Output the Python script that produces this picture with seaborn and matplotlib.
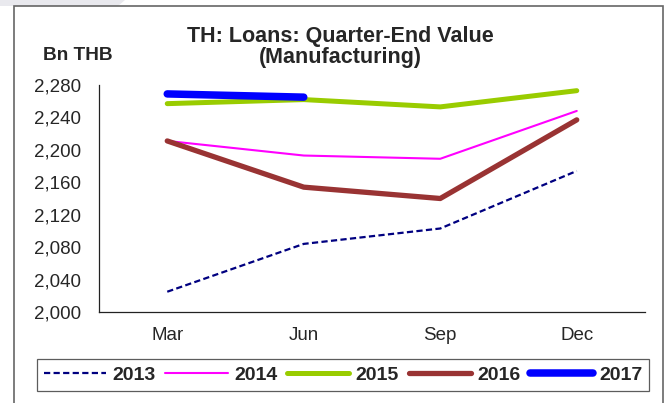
import matplotlib
matplotlib.use("Agg")
import matplotlib.pyplot as plt
from matplotlib.patches import Rectangle, Polygon
from matplotlib.ticker import FixedLocator, FuncFormatter
import seaborn as sns
import pandas as pd

quarters = ["Mar", "Jun", "Sep", "Dec"]
loans_2013 = [2025, 2084, 2103, 2174]
loans_2014 = [2211, 2193, 2189, 2248]
loans_2015 = [2257, 2262, 2253, 2273]
loans_2016 = [2211, 2154, 2140, 2237]
loans_2017 = [2269, 2265]

series = [
    ("2013", loans_2013, "#000080", 1.6, (0, (2.8, 1.5))),
    ("2014", loans_2014, "#FF00FF", 1.5, "-"),
    ("2015", loans_2015, "#99CC00", 3.6, "-"),
    ("2016", loans_2016, "#993333", 3.8, "-"),
    ("2017", loans_2017, "#0000FF", 5.4, "-"),
]

sns.set_style("white")
plt.rcParams["font.family"] = ["Liberation Sans", "DejaVu Sans"]

W, H = 667, 403
fig = plt.figure(figsize=(W / 100, H / 100), dpi=100)
ax = fig.add_axes([99 / W, 1 - 312 / H, (645 - 99) / W, (312 - 85) / H])

for label, vals, color, lw, ls in series:
    df = pd.DataFrame({"quarter": quarters[:len(vals)], "value": vals})
    sns.lineplot(data=df, x="quarter", y="value", ax=ax, color=color,
                 linewidth=lw, linestyle=ls, label=label, sort=False,
                 solid_capstyle="round", dash_capstyle="butt")

ax.set_xlim(-0.5, 3.5)
ax.set_ylim(2000, 2280)
ax.set_yticks(range(2000, 2281, 40))
ax.yaxis.set_major_formatter(FuncFormatter(lambda v, p: f"{int(v):,}"))
ax.xaxis.set_major_locator(FixedLocator([-0.5, 0.5, 1.5, 2.5, 3.5]))
ax.xaxis.set_minor_locator(FixedLocator([0, 1, 2, 3]))
ax.set_xticklabels([], minor=False)
ax.set_xticklabels(quarters, minor=True)
ax.tick_params(axis="x", which="minor", length=0, pad=10.5, labelsize=13.5)
ax.tick_params(axis="x", which="major", length=5, width=0.8, direction="out",
               color="#333333")
ax.tick_params(axis="y", length=5, width=0.8, direction="out", labelsize=13.5,
               pad=8, color="#333333")
ax.set_xlabel("")
ax.set_ylabel("")
for side in ("top", "right"):
    ax.spines[side].set_visible(False)
for side in ("left", "bottom"):
    ax.spines[side].set_color("#222222")
    ax.spines[side].set_linewidth(0.9)

fig.text(340 / W, 1 - 47 / H, "TH: Loans: Quarter-End Value\n(Manufacturing)",
         ha="center", va="center", fontsize=15.5, fontweight="bold",
         linespacing=1.05)
fig.text(78 / W, 1 - 56 / H, "Bn THB", ha="center", va="center",
         fontsize=13.7, fontweight="bold")

handles, labels = ax.get_legend_handles_labels()
ax.get_legend().remove()
leg = fig.legend(handles, labels, ncol=5, loc="center",
                 bbox_to_anchor=(343 / W, 1 - 375 / H), frameon=True,
                 fancybox=False, edgecolor="#333333", handlelength=3.2,
                 columnspacing=0.5, handletextpad=0.33, borderpad=0.35,
                 borderaxespad=0, prop={"weight": "bold", "size": 14.0})
leg.get_frame().set_linewidth(0.9)

# faint band above the frame at the top-left corner
fig.patches.append(Polygon([(0, 1), (125 / W, 1), (118 / W, 1 - 6 / H), (0, 1 - 6 / H)],
                           closed=True, transform=fig.transFigure,
                           facecolor="#E9E9EE", edgecolor="none"))
fig.patches.append(Rectangle((14 / W, -0.02), (663 - 14) / W, 1 - 6 / H + 0.02,
                             transform=fig.transFigure, fill=False,
                             edgecolor="#666666", linewidth=1.2))

fig.savefig("out.png", dpi=100)
